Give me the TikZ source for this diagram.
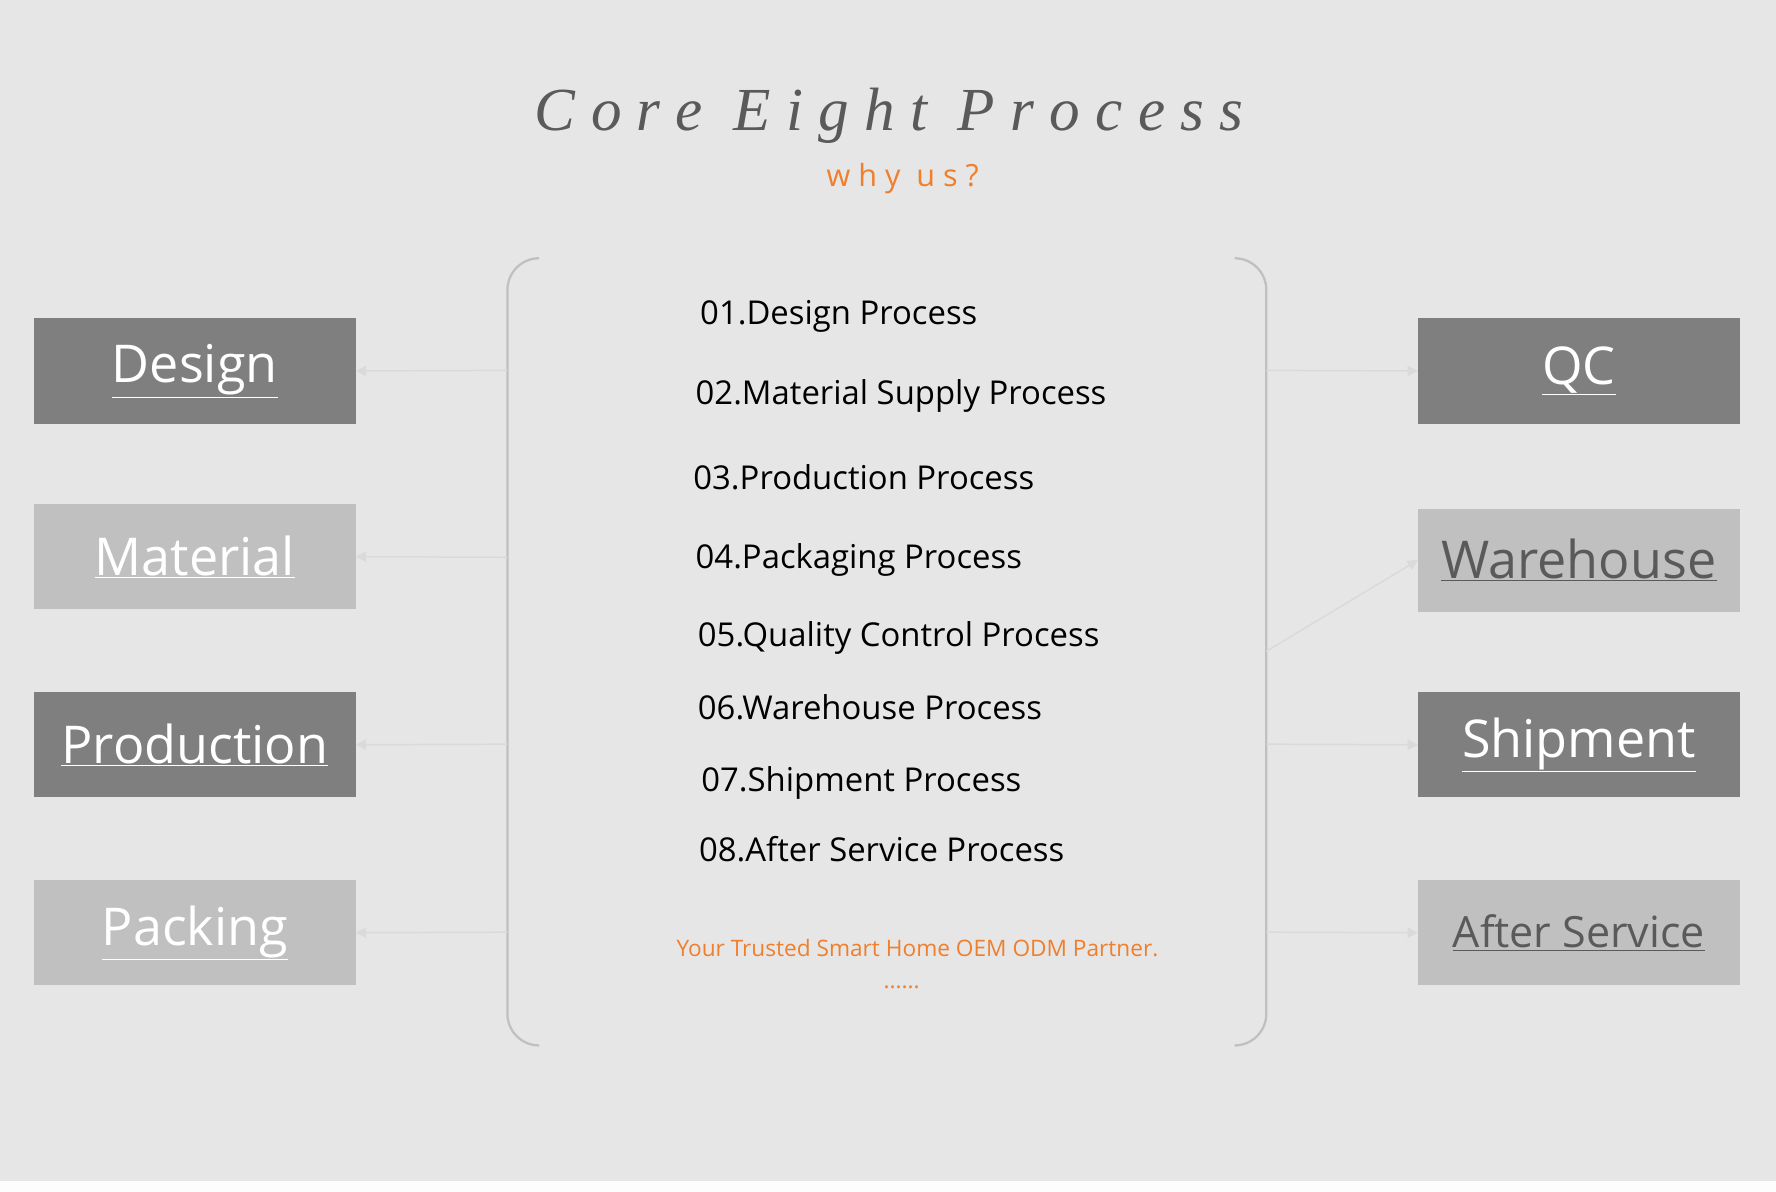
\documentclass[tikz,border=0pt]{standalone}
\usepackage{fontspec}
\setmainfont{Open Sans}
\newfontfamily\titlefont{Liberation Serif}
\usetikzlibrary{arrows.meta}
\definecolor{bg}{HTML}{E6E6E6}
\definecolor{dk}{HTML}{7F7F7F}
\definecolor{lt}{HTML}{C0C0C0}
\definecolor{org}{HTML}{F07F2D}
\definecolor{ln}{HTML}{DADADA}
\definecolor{txtd}{HTML}{5A5A5A}
\begin{document}
\begin{tikzpicture}[x=1pt,y=-1pt,
  box/.style={minimum width=284pt,minimum height=93pt,inner sep=0pt,font=\fontsize{46}{50}\selectfont},
  dbox/.style={box,fill=dk,text=white},
  lbox/.style={box,fill=lt,text=white},
  gbox/.style={box,fill=lt,text=txtd},
  item/.style={anchor=west,font=\fontsize{29}{32}\selectfont,text=black,inner sep=0pt},
  conn/.style={draw=ln,line width=1.3pt,-{Triangle[length=9pt,width=9pt]}}]
\fill[bg] (0,0) rectangle (1568,1043);
\fill[white!94!bg] (0,1043) rectangle (1568,1052);
\useasboundingbox (0,0) rectangle (1568,1052);
\node[font=\titlefont\itshape\fontsize{54}{58}\selectfont,text=txtd] (title) at (785,102) {C o r e\ \ E i g h t\ \ P r o c e s s};
\node[font=\fontsize{27}{30}\selectfont,text=org] (why) at (797,158) {w h y\ \ u s ?};
\draw[lt,line width=2pt,rounded corners=28pt] (475,228) -- (448,228) -- (448,923) -- (475,923);
\draw[lt,line width=2pt,rounded corners=28pt] (1091,228) -- (1118,228) -- (1118,923) -- (1091,923);
\coordinate (L1) at (448,327);\coordinate (L2) at (448,492);\coordinate (L3) at (448,657);\coordinate (L4) at (448,823);
\coordinate (R1) at (1118,327);\coordinate (R2) at (1118,575);\coordinate (R3) at (1118,657);\coordinate (R4) at (1118,823);
\node[dbox] (design) at (172,327.5) {\underline{Design}};
\node[lbox] (material) at (172,491.5) {\underline{Material}};
\node[dbox] (production) at (172,657.5) {\underline{Production}};
\node[lbox] (packing) at (172,823.5) {\underline{Packing}};
\node[dbox] (qc) at (1394,327.5) {\underline{QC}};
\node[gbox,minimum height=91pt] (warehouse) at (1394,494.5) {\underline{Warehouse}};
\node[dbox] (shipment) at (1394,657.5) {\underline{Shipment}};
\node[gbox,font=\fontsize{38}{42}\selectfont] (after) at (1394,823.5) {\underline{After Service}};
\draw[conn] (L1) -- (design.east);
\draw[conn] (L2) -- (material.east);
\draw[conn] (L3) -- (production.east);
\draw[conn] (L4) -- (packing.east);
\draw[conn] (R1) -- (qc.west);
\draw[conn] (R2) -- (warehouse.west);
\draw[conn] (R3) -- (shipment.west);
\draw[conn] (R4) -- (after.west);
\node[item] (i1) at (618,279) {01.Design Process};
\node[item] (i2) at (614,350) {02.Material Supply Process};
\node[item] (i3) at (612,421) {03.Production Process};
\node[item] (i4) at (614,494) {04.Packaging Process};
\node[item] (i5) at (616,563) {05.Quality Control Process};
\node[item] (i6) at (616,624) {06.Warehouse Process};
\node[item] (i7) at (619,691) {07.Shipment Process};
\node[item] (i8) at (617,750) {08.After Service Process};
\node[font=\fontsize{20}{24}\selectfont,text=org] (tag) at (810,837) {Your Trusted Smart Home OEM ODM Partner.};
\node[font=\fontsize{20}{24}\selectfont,text=org] (dots) at (796,872) {......};
\end{tikzpicture}
\end{document}
